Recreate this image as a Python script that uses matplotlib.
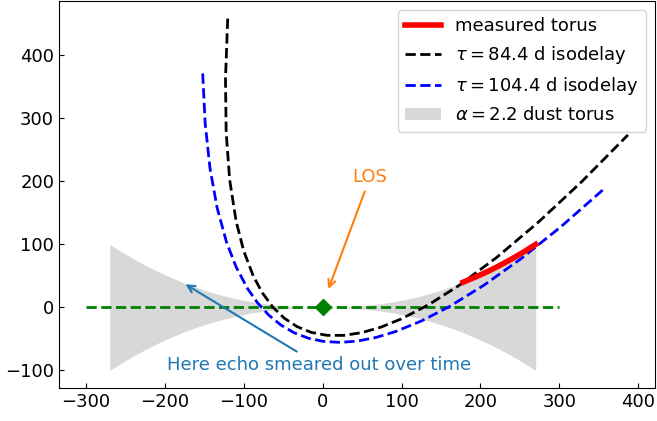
import matplotlib
matplotlib.use("Agg")
import matplotlib.pyplot as plt

plt.rcParams["font.size"] = 13

# isodelay paraboloid for tau = 84.4 d (light days)
iso84_x = [-120.45, -123.26, -122.41, -117.93, -109.80, -100.24, -88.14, -76.65,
           -63.52, -48.78, -32.41, -14.43, 5.17, 26.40, 49.24, 73.71, 99.80,
           134.68, 172.10, 220.35, 272.25, 327.80, 386.99]
iso84_y = [458.52, 363.08, 277.67, 202.27, 136.90, 90.07, 50.21, 23.33,
           0.91, -17.07, -30.59, -39.66, -44.27, -44.43, -40.13, -31.39, -18.19,
           4.57, 34.30, 79.15, 134.03, 198.92, 273.82]

# isodelay paraboloid for tau = 104.4 d
iso104_x = [-152.16, -149.03, -142.95, -133.92, -121.95, -109.72, -95.44, -82.55,
            -68.34, -52.82, -35.99, -17.85, 1.59, 22.36, 44.42, 67.81, 92.50,
            125.20, 159.95, 204.36, 251.71, 302.03, 355.28]
iso104_y = [371.38, 292.25, 221.24, 158.32, 103.51, 64.02, 30.15, 7.11,
            -12.33, -28.17, -40.41, -49.05, -54.09, -55.53, -53.37, -47.61, -38.25,
            -21.48, 0.91, 35.20, 77.60, 128.09, 186.68]

# dust torus half thickness
torus_x = [-270, -255, -240, -225, -210, -195, -180, -165, -150, -135, -120,
           -105, -90, -75, -60, -45, -30, -15, 0,
           15, 30, 45, 60, 75, 90, 105, 120, 135, 150, 165, 180, 195, 210,
           225, 240, 255, 270]
torus_h = [100.0, 88.18, 77.17, 66.96, 57.53, 48.88, 40.98, 33.84, 27.44, 21.77, 16.80,
           12.52, 8.92, 5.97, 3.66, 1.94, 0.80, 0.17, 0.0,
           0.17, 0.80, 1.94, 3.66, 5.97, 8.92, 12.52, 16.80, 21.77, 27.44, 33.84, 40.98,
           48.88, 57.53, 66.96, 77.17, 88.18, 100.0]

# measured part of the torus
meas_x = [178, 195, 210, 225, 240, 255, 270]
meas_y = [40.0, 48.9, 57.5, 67.0, 77.2, 88.2, 100.0]

# midplane
plane_x = [-300, 300]
plane_y = [0, 0]

fig = plt.figure(figsize=(6.57, 4.21), dpi=100)
ax = fig.add_axes([0.0898, 0.0784, 0.9072, 0.9192])

ax.fill_between(torus_x, [-h for h in torus_h], torus_h, color="grey",
                alpha=0.3, lw=0, label=r"$\alpha=2.2$ dust torus")
ax.plot(plane_x, plane_y, "g--", lw=2)
ax.plot(iso84_x, iso84_y, "k--", lw=2, label=r"$\tau=84.4$ d isodelay")
ax.plot(iso104_x, iso104_y, "b--", lw=2, label=r"$\tau=104.4$ d isodelay")
ax.plot(meas_x, meas_y, color="red", lw=4, label="measured torus")
ax.plot([0], [0], "gD", ms=8)

ax.annotate("LOS", xy=(6, 25), xytext=(38, 199), color="C1",
            arrowprops=dict(arrowstyle="->", color="C1", lw=1.5))
ax.annotate("Here echo smeared out over time", xy=(-177, 39), xytext=(-198, -99),
            color="C0", arrowprops=dict(arrowstyle="->", color="C0", lw=1.5))

ax.tick_params(direction="in")

handles, labels = ax.get_legend_handles_labels()
order = [3, 1, 2, 0]
ax.legend([handles[i] for i in order], [labels[i] for i in order], loc="upper right")

fig.savefig("out.png", dpi=100)
